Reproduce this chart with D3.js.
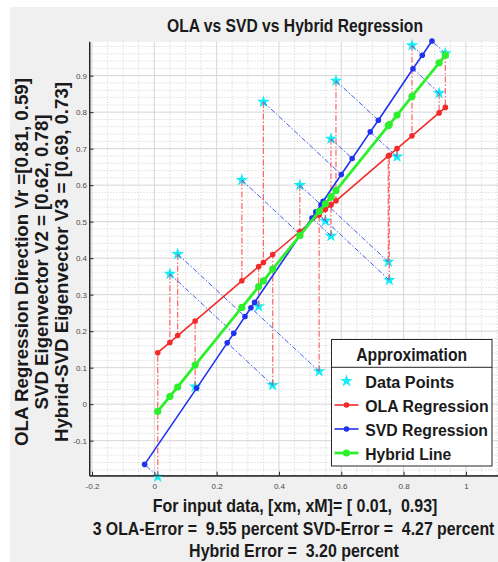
<!DOCTYPE html>
<html>
<head>
<meta charset="utf-8">
<script src="https://cdn.jsdelivr.net/npm/d3@7/dist/d3.min.js"></script>
<style>
    body { margin: 0; background: #fff; }
    text { font-family: "Liberation Sans", Arial, Helvetica, sans-serif; }
</style>
</head>
<body>
<div id="chart"></div>
<script>
//DATA
let DATA_X = [0.011, 0.050, 0.075, 0.131, 0.281, 0.335, 0.350, 0.380, 0.467, 0.529, 0.549, 0.567, 0.567, 0.583, 0.751, 0.754, 0.779, 0.827, 0.914, 0.934]
let DATA_Y = [-0.199, 0.357, 0.411, 0.048, 0.614, 0.268, 0.828, 0.052, 0.600, 0.090, 0.502, 0.727, 0.461, 0.886, 0.390, 0.340, 0.678, 0.983, 0.852, 0.961]
// OLA fitted values (same x as the data)
let OLA_Y = [0.141, 0.169, 0.188, 0.228, 0.338, 0.377, 0.388, 0.410, 0.473, 0.518, 0.533, 0.546, 0.546, 0.557, 0.680, 0.682, 0.700, 0.735, 0.798, 0.813]
// SVD projections of the data
let SVD_X = [-0.031, 0.255, 0.291, 0.136, 0.469, 0.322, 0.600, 0.234, 0.535, 0.310, 0.519, 0.635, 0.506, 0.719, 0.542, 0.519, 0.693, 0.860, 0.830, 0.891]
let SVD_Y = [-0.165, 0.194, 0.240, 0.044, 0.464, 0.279, 0.629, 0.168, 0.546, 0.264, 0.526, 0.673, 0.510, 0.778, 0.556, 0.527, 0.746, 0.956, 0.919, 0.995]
// Hybrid line values (same x as the data)
let HYB_Y = [-0.020, 0.021, 0.047, 0.107, 0.265, 0.322, 0.338, 0.370, 0.462, 0.528, 0.549, 0.568, 0.568, 0.585, 0.763, 0.766, 0.792, 0.843, 0.935, 0.956]

let X_TICKS = [-0.2, 0, 0.2, 0.4, 0.6, 0.8, 1]
let Y_TICKS = [-0.1, 0, 0.1, 0.2, 0.3, 0.4, 0.5, 0.6, 0.7, 0.8, 0.9]

let TITLE = "OLA vs SVD vs Hybrid Regression"
let Y_LABELS = ["OLA Regression Direction Vr =[0.81, 0.59]",
    "SVD Eigenvector V2 = [0.62, 0.78]",
    "Hybrid-SVD Eigenvector V3 = [0.69, 0.73]"]
let X_LABELS = ["For input data, [xm, xM]= [ 0.01,  0.93]",
    "3 OLA-Error =  9.55 percent SVD-Error =  4.27 percent",
    "Hybrid Error =  3.20 percent"]
let LEGEND_TITLE = "Approximation"
let LEGEND_NAMES = ["Data Points", "OLA Regression", "SVD Regression", "Hybrid Line"]

let RED = "#f32a2a", BLUE = "#1f33ee", GREEN = "#2df02d", CYAN = "#12eef5"


// MAIN SCRIPT
let width = 498, height = 562
let plotLeft = 89.5, plotRight = 500.5, plotTop = 41.7, plotBottom = 475.7

let svg = d3.select("#chart")
    .append("svg")
    .attr("width", width)
    .attr("height", height)

// figure background
svg.append("rect")
    .attr("x", 10).attr("y", 7)
    .attr("width", width - 10).attr("height", height - 7)
    .attr("fill", "#f0f0f0")

let x = d3.scaleLinear().domain([-0.208, 1.111]).range([plotLeft, plotRight])
let y = d3.scaleLinear().domain([-0.196, 0.993]).range([plotBottom, plotTop])

svg.append("rect")
    .attr("x", plotLeft).attr("y", plotTop)
    .attr("width", plotRight - plotLeft).attr("height", plotBottom - plotTop)
    .attr("fill", "white")

// minor grid (dotted)
let minorX = d3.range(-4, 23).filter(function (i) { return i % 4 !== 0 }).map(function (i) { return i * 0.05 })
let minorY = d3.range(-9, 50).filter(function (j) { return j % 5 !== 0 }).map(function (j) { return j * 0.02 })
let grid = svg.append("g")
grid.selectAll("minorX")
    .data(minorX).enter().append("line")
    .attr("x1", function (d) { return x(d) }).attr("x2", function (d) { return x(d) })
    .attr("y1", plotTop).attr("y2", plotBottom)
    .attr("stroke", "#c4c4c4").attr("stroke-width", 0.8).attr("stroke-dasharray", "1,2")
grid.selectAll("minorY")
    .data(minorY).enter().append("line")
    .attr("y1", function (d) { return y(d) }).attr("y2", function (d) { return y(d) })
    .attr("x1", plotLeft).attr("x2", plotRight)
    .attr("stroke", "#c4c4c4").attr("stroke-width", 0.8).attr("stroke-dasharray", "1,2")
// major grid
grid.selectAll("majorX")
    .data(X_TICKS).enter().append("line")
    .attr("x1", function (d) { return x(d) }).attr("x2", function (d) { return x(d) })
    .attr("y1", plotTop).attr("y2", plotBottom)
    .attr("stroke", "#d6d6d6").attr("stroke-width", 1)
grid.selectAll("majorY")
    .data(Y_TICKS).enter().append("line")
    .attr("y1", function (d) { return y(d) }).attr("y2", function (d) { return y(d) })
    .attr("x1", plotLeft).attr("x2", plotRight)
    .attr("stroke", "#d6d6d6").attr("stroke-width", 1)

// axes
let fmt = function (d) { return d === 0 ? "0" : String(+d.toFixed(1)) }
let xAxis = svg.append("g")
    .attr("transform", "translate(0," + plotBottom + ")")
    .call(d3.axisBottom(x).tickValues(X_TICKS).tickFormat(fmt).tickSize(-4).tickSizeOuter(0).tickPadding(8))
let yAxis = svg.append("g")
    .attr("transform", "translate(" + plotLeft + ",0)")
    .call(d3.axisLeft(y).tickValues(Y_TICKS).tickFormat(fmt).tickSize(-4).tickSizeOuter(0).tickPadding(2.5))
svg.selectAll(".domain").attr("stroke", "#262626")
svg.selectAll(".tick line").attr("stroke", "#262626")
svg.selectAll(".tick text")
    .style("font-family", "'Liberation Sans', Arial, sans-serif")
    .style("font-size", "8px")
    .attr("fill", "#4a4a4a")

let points = DATA_X.map(function (d, i) {
    return { x: d, y: DATA_Y[i], ola: OLA_Y[i], sx: SVD_X[i], sy: SVD_Y[i], hyb: HYB_Y[i] }
})

let star = d3.symbol().type(d3.symbolStar).size(50)
svg.selectAll("myStars")
    .data(points).enter().append("path")
    .attr("d", star)
    .attr("transform", function (d) { return "translate(" + x(d.x) + "," + y(d.y) + ")" })
    .attr("fill", CYAN)

// vertical residuals to OLA line
svg.selectAll("olaRes")
    .data(points).enter().append("line")
    .attr("x1", function (d) { return x(d.x) }).attr("y1", function (d) { return y(d.y) })
    .attr("x2", function (d) { return x(d.x) }).attr("y2", function (d) { return y(d.ola) })
    .attr("stroke", "#ff4a4a").attr("stroke-opacity", 0.85).attr("stroke-width", 1.2)
    .attr("stroke-dasharray", "6,2,1.5,2")
// orthogonal residuals to SVD line
svg.selectAll("svdRes")
    .data(points).enter().append("line")
    .attr("x1", function (d) { return x(d.x) }).attr("y1", function (d) { return y(d.y) })
    .attr("x2", function (d) { return x(d.sx) }).attr("y2", function (d) { return y(d.sy) })
    .attr("stroke", "#3f5cf5").attr("stroke-width", 1)
    .attr("stroke-dasharray", "5,2,1.5,2")

function addSeries(data, color, lw, r) {
    let line = d3.line()
        .x(function (d) { return x(d[0]) })
        .y(function (d) { return y(d[1]) })
    svg.append("path")
        .attr("d", line(data))
        .attr("stroke", color)
        .attr("stroke-width", lw)
        .attr("fill", "none")
    svg.selectAll("myDots")
        .data(data).enter().append("circle")
        .attr("cx", function (d) { return x(d[0]) })
        .attr("cy", function (d) { return y(d[1]) })
        .attr("r", r)
        .attr("fill", color)
}

let olaData = points.map(function (d) { return [d.x, d.ola] }).sort(function (a, b) { return a[0] - b[0] })
let svdData = points.map(function (d) { return [d.sx, d.sy] }).sort(function (a, b) { return a[0] - b[0] })
let hybData = points.map(function (d) { return [d.x, d.hyb] }).sort(function (a, b) { return a[0] - b[0] })
addSeries(olaData, RED, 1.6, 2.8)
addSeries(svdData, BLUE, 1.6, 2.8)
addSeries(hybData, GREEN, 2.8, 3.6)

// axes lines on top
svg.append("line").attr("x1", plotLeft).attr("x2", plotLeft).attr("y1", plotTop).attr("y2", plotBottom).attr("stroke", "#262626")
svg.append("line").attr("x1", plotLeft).attr("x2", plotRight).attr("y1", plotBottom).attr("y2", plotBottom).attr("stroke", "#262626")

// title
svg.append("text")
    .attr("x", 295).attr("y", 31.7)
    .attr("text-anchor", "middle")
    .attr("textLength", 256).attr("lengthAdjust", "spacingAndGlyphs")
    .style("font-size", "18px").style("font-weight", "bold")
    .attr("fill", "#1a1a1a")
    .text(TITLE)

// y labels
let yLabelX = [28, 48, 68]
let yLabelLen = [368, 295, 360]
svg.selectAll("yLabels")
    .data(Y_LABELS).enter().append("text")
    .attr("transform", function (d, i) { return "translate(" + yLabelX[i] + ",262) rotate(-90)" })
    .attr("text-anchor", "middle")
    .attr("textLength", function (d, i) { return yLabelLen[i] })
    .attr("lengthAdjust", "spacingAndGlyphs")
    .style("font-size", "18px").style("font-weight", "bold")
    .attr("fill", "#1a1a1a")
    .text(function (d) { return d })

// x labels: squeezed horizontally with a scale so the box matches the drawn width
let xLabelY = [511.7, 535, 556.7]
let xLabelX = [295, 293.5, 294]
let xLabelLen = [285, 402, 210]
svg.selectAll("xLabels")
    .data(X_LABELS).enter().append("text")
    .attr("x", 0).attr("y", 0)
    .attr("text-anchor", "middle")
    .attr("xml:space", "preserve")
    .style("white-space", "pre")
    .style("font-size", "18px").style("font-weight", "bold")
    .attr("fill", "#1a1a1a")
    .text(function (d) { return d })
    .attr("transform", function (d, i) {
        let s = xLabelLen[i] / this.getComputedTextLength()
        return "translate(" + xLabelX[i] + "," + xLabelY[i] + ") scale(" + s + ",1)"
    })

// legend
let lg = svg.append("g")
lg.append("rect")
    .attr("x", 331.5).attr("y", 339.5)
    .attr("width", 160.5).attr("height", 126.5)
    .attr("fill", "white").attr("stroke", "#262626")
lg.append("line")
    .attr("x1", 331.5).attr("x2", 492).attr("y1", 367.3).attr("y2", 367.3)
    .attr("stroke", "#262626")
lg.append("text")
    .attr("x", 411.7).attr("y", 361)
    .attr("text-anchor", "middle")
    .attr("textLength", 111).attr("lengthAdjust", "spacingAndGlyphs")
    .style("font-size", "18px").style("font-weight", "bold")
    .attr("fill", "#1a1a1a")
    .text(LEGEND_TITLE)

let rowY = [381, 405, 429, 453]
let rowLen = [89, 123.4, 122.7, 86]
let rowColor = [CYAN, RED, BLUE, GREEN]
let rowWidth = [0, 1.6, 1.6, 2.8]
let rowR = [0, 2.8, 2.8, 3.6]
LEGEND_NAMES.forEach(function (name, i) {
    if (i === 0) {
        lg.append("path")
            .attr("d", star)
            .attr("transform", "translate(346.5," + rowY[i] + ")")
            .attr("fill", CYAN)
    } else {
        lg.append("line")
            .attr("x1", 334.5).attr("x2", 358.5)
            .attr("y1", rowY[i]).attr("y2", rowY[i])
            .attr("stroke", rowColor[i]).attr("stroke-width", rowWidth[i])
        lg.append("circle")
            .attr("cx", 346.5).attr("cy", rowY[i]).attr("r", rowR[i])
            .attr("fill", rowColor[i])
    }
    lg.append("text")
        .attr("x", 365.3).attr("y", rowY[i] + 6.5)
        .attr("textLength", rowLen[i]).attr("lengthAdjust", "spacingAndGlyphs")
        .style("font-size", "16px").style("font-weight", "bold")
        .attr("fill", "#1a1a1a")
        .text(name)
})
</script>
</body>
</html>
